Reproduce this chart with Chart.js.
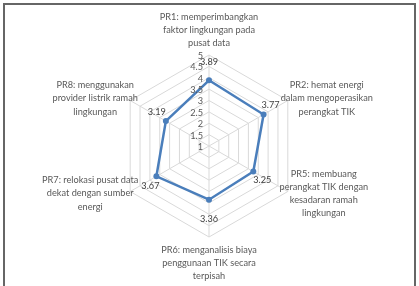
<!DOCTYPE html>
<html>
<head>
<meta charset="utf-8">
<script src="https://cdn.jsdelivr.net/npm/chart.js@4.4.1/dist/chart.umd.min.js"></script>
<style>
  html, body { margin: 0; padding: 0; background: #fff; }
  #wrap { position: relative; width: 419px; height: 286px; }
  #frame { position: absolute; left: 3px; top: 3px; width: 413px; height: 290px; border: 2px solid #666; box-sizing: border-box; pointer-events: none; }
</style>
</head>
<body>
<div id="wrap">
  <canvas id="chart-canvas" width="419" height="286"></canvas>
  <div id="frame"></div>
</div>
<script>
const ctx = document.getElementById('chart-canvas');

// axis categories (multi-line, as in the original)
const categories = [
  ['PR1: memperimbangkan', 'faktor lingkungan pada', 'pusat data'],
  ['PR2: hemat energi', 'dalam mengoperasikan', 'perangkat TIK'],
  ['PR5: membuang', 'perangkat TIK dengan', 'kesadaran ramah', 'lingkungan'],
  ['PR6: menganalisis biaya', 'penggunaan TIK secara', 'terpisah'],
  ['PR7: relokasi pusat data', 'dekat dengan sumber', 'energi'],
  ['PR8: menggunakan', 'provider listrik ramah', 'lingkungan']
];

// mean score per practice
const scores = [3.89, 3.77, 3.25, 3.36, 3.67, 3.19];

// scale ticks
const tick_values = [1, 1.5, 2, 2.5, 3, 3.5, 4, 4.5, 5];

const FONT = 'Lato, "Liberation Sans", sans-serif';
const TEXT = '#595959';

// where each category block centre sits relative to its spoke end
const label_offsets = [[0, -25], [39, -2], [36, 2], [0, 26], [-40, 2], [-35, -2]];
// value label offsets from the marker
const value_offsets = [[0, -18], [7, -9], [9, 8], [0, 19], [-6, 10], [-9, -9]];

const labelsPlugin = {
  id: 'labelsPlugin',
  afterDatasetsDraw(chart) {
    const c = chart.ctx;
    const scale = chart.scales.r;
    c.save();
    c.font = '9.2px ' + FONT;
    c.fillStyle = TEXT;

    // tick labels, right aligned just left of the vertical spoke
    c.textAlign = 'right';
    c.textBaseline = 'middle';
    tick_values.forEach(v => {
      const d = scale.getDistanceFromCenterForValue(v);
      c.fillText(String(v), scale.xCenter - 6, scale.yCenter - d + 1);
    });

    // category labels
    c.textAlign = 'center';
    const lh = 13.3;
    categories.forEach((lines, i) => {
      const p = scale.getPointPosition(i, scale.drawingArea);
      const cx = p.x + label_offsets[i][0];
      const cy = p.y + label_offsets[i][1];
      const top = cy - (lines.length - 1) * lh / 2;
      lines.forEach((t, k) => c.fillText(t, cx, top + k * lh));
    });

    // value labels
    c.fillStyle = '#404040';
    const meta = chart.getDatasetMeta(0);
    meta.data.forEach((pt, i) => {
      c.fillText(scores[i].toFixed(2), pt.x + value_offsets[i][0], pt.y + value_offsets[i][1]);
    });
    c.restore();
  }
};

new Chart(ctx, {
  type: 'radar',
  data: {
    labels: categories,
    datasets: [{
      data: scores,
      borderColor: '#4a7ebb',
      backgroundColor: '#4a7ebb',
      borderWidth: 2.5,
      fill: false,
      pointRadius: 3,
      pointBackgroundColor: '#4a7ebb',
      pointBorderWidth: 0
    }]
  },
  options: {
    responsive: false,
    animation: false,
    events: [],
    layout: { padding: { top: 55, bottom: 49, left: 0, right: 1 } },
    plugins: { legend: { display: false }, tooltip: { enabled: false } },
    scales: {
      r: {
        min: 1,
        max: 5,
        ticks: { stepSize: 0.5, display: false },
        grid: { color: '#d9d9d9', lineWidth: 1 },
        angleLines: { color: '#d9d9d9', lineWidth: 1 },
        pointLabels: { display: false }
      }
    }
  },
  plugins: [labelsPlugin]
});
</script>
</body>
</html>
